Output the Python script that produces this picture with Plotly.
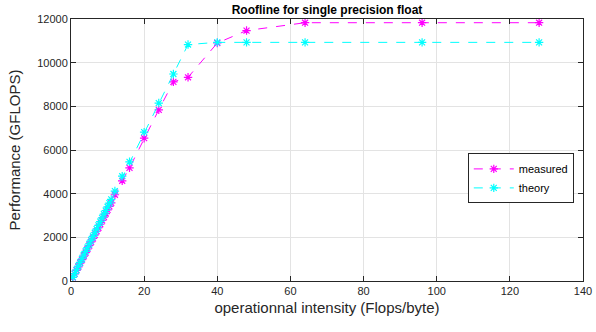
import plotly.graph_objects as go

intensity = [0.5, 1, 1.5, 2, 2.5, 3, 3.5, 4, 4.5, 5, 5.5, 6, 6.5, 7, 7.5, 8, 8.5, 9, 9.5, 10,
             10.5, 11, 12, 14, 16, 20, 24, 28, 32, 40, 48, 64, 96, 128]
measured = [160, 325, 490, 650, 815, 975, 1140, 1300, 1465, 1625, 1790, 1950, 2115, 2280, 2440,
            2600, 2770, 2930, 3090, 3260, 3420, 3580, 3950, 4590, 5180, 6540, 7840, 9120, 9330,
            10900, 11470, 11830, 11830, 11830]
theory = [170, 340, 510, 680, 850, 1020, 1190, 1360, 1530, 1700, 1870, 2040, 2210, 2380, 2550,
          2720, 2890, 3060, 3230, 3400, 3570, 3740, 4120, 4800, 5460, 6820, 8150, 9480, 10830,
          10930, 10930, 10930, 10930, 10930]
x_ticks = [0, 20, 40, 60, 80, 100, 120, 140]
y_ticks = [0, 2000, 4000, 6000, 8000, 10000, 12000]
y_tick_labels = ["0", "2000", "4000", "6000", "8000", "10000", "12000"]

FONT = "Liberation Sans, Arial, sans-serif"
AX = "#262626"

fig = go.Figure()
fig.add_trace(go.Scatter(
    x=intensity, y=measured, name="measured", mode="lines+markers",
    line=dict(color="#ff00ff", width=1, dash="dash"),
    marker=dict(symbol="asterisk-open", size=7, color="#ff00ff", line=dict(color="#ff00ff", width=1.2)),
))
fig.add_trace(go.Scatter(
    x=intensity, y=theory, name="theory", mode="lines+markers",
    line=dict(color="#00ffff", width=1, dash="dash"),
    marker=dict(symbol="asterisk-open", size=7, color="#00ffff", line=dict(color="#00ffff", width=1.2)),
))

axis_common = dict(
    showgrid=True, gridcolor="#e3e3e3", gridwidth=1,
    showline=True, linecolor=AX, linewidth=1, mirror="ticks",
    ticks="inside", ticklen=5, tickcolor=AX, tickwidth=1,
    tickfont=dict(family=FONT, size=11, color=AX), zeroline=False,
    automargin=False,
)

fig.update_layout(
    width=596, height=332,
    margin=dict(l=71, r=13, t=19, b=51),
    paper_bgcolor="white", plot_bgcolor="white",
    font=dict(family=FONT, color=AX),
    title=dict(text="<b>Roofline for single precision float</b>", x=(71 + 583) / 2 / 596, xanchor="center",
               y=1 - 10 / 332, yanchor="middle", font=dict(family=FONT, size=12, color="black")),
    xaxis=dict(range=[0, 140], tickvals=x_ticks,
               title=dict(text="operationnal intensity (Flops/byte)", font=dict(family=FONT, size=15, color=AX), standoff=6),
               **axis_common),
    yaxis=dict(range=[0, 12000], tickvals=y_ticks, ticktext=y_tick_labels,
               title=dict(text="Performance (GFLOPS)", font=dict(family=FONT, size=15, color=AX), standoff=12),
               **axis_common),
    legend=dict(x=0.982, y=0.487, xanchor="right", yanchor="top",
                bgcolor="white", bordercolor=AX, borderwidth=1,
                font=dict(family=FONT, size=11, color="black"), itemwidth=40,
                tracegroupgap=0),
    showlegend=True,
)

fig.write_html("out.html", config={"displayModeBar": False},
               post_script="document.body.style.margin='0';")
